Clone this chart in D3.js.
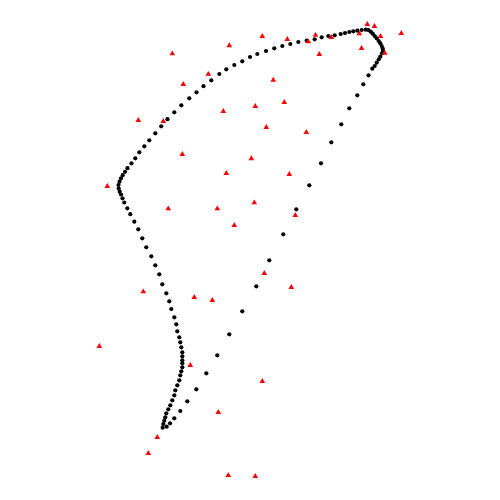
<!DOCTYPE html>
<html>
<head>
<meta charset="utf-8">
<script src="https://cdn.jsdelivr.net/npm/d3@7"></script>
<style>
  html, body { margin: 0; padding: 0; background: #fff; }
  svg { display: block; }
</style>
</head>
<body>
<script>
// Curve points (black dots), in data units
const curveX = [16.27,16.67,17.00,17.43,18.03,18.73,19.63,20.63,21.73,22.93,24.23,25.63,26.93,28.33,29.63,30.93,32.10,33.13,34.13,34.93,35.73,36.33,36.85,37.23,37.47,37.67,37.87,38.03,38.20,38.30,38.27,38.17,38.03,37.87,37.67,37.47,37.27,37.07,36.83,36.57,36.17,35.73,35.33,34.93,34.50,34.07,33.47,32.83,32.17,31.47,30.67,29.83,29.03,28.23,27.43,26.60,25.73,25.00,24.23,23.43,22.63,21.93,21.13,20.35,19.65,18.93,18.13,17.43,16.75,16.12,15.53,14.93,14.43,13.93,13.53,13.15,12.75,12.50,12.27,12.10,11.95,11.85,11.87,11.97,12.10,12.25,12.43,12.73,13.03,13.43,13.83,14.23,14.63,15.13,15.53,15.93,16.23,16.63,16.93,17.13,17.43,17.63,17.73,17.93,18.03,18.13,18.23,18.23,18.23,18.23,18.23,18.13,18.03,17.93,17.73,17.53,17.43,17.23,17.03,16.83,16.63,16.53,16.43,16.33];
const curveY = [7.23,7.33,7.67,8.17,8.90,9.87,11.07,12.67,14.47,16.57,18.87,21.37,23.97,26.57,29.07,31.47,33.67,35.77,37.57,39.17,40.47,41.57,42.47,43.13,43.40,43.73,44.07,44.33,44.67,44.93,45.13,45.40,45.67,45.90,46.17,46.40,46.63,46.83,47.00,47.03,47.00,46.93,46.87,46.80,46.70,46.60,46.47,46.40,46.27,46.07,45.93,45.80,45.60,45.40,45.17,44.90,44.60,44.30,43.87,43.50,43.07,42.60,41.97,41.38,40.77,40.17,39.47,38.77,38.08,37.37,36.67,35.97,35.37,34.77,34.17,33.67,33.18,32.82,32.48,32.17,31.83,31.50,31.15,30.83,30.55,30.17,29.75,29.17,28.58,27.83,27.07,26.17,25.27,24.37,23.47,22.57,21.57,20.67,19.87,19.10,18.27,17.57,16.87,16.27,15.77,15.27,14.77,14.37,13.97,13.67,13.27,12.87,12.47,11.97,11.47,10.97,10.47,9.97,9.47,9.07,8.67,8.27,7.93,7.60];

// Scattered points (red triangles), in data units
const scatterX = [36.73,37.45,40.13,35.93,38.05,33.13,31.55,30.83,28.73,26.23,22.93,17.23,36.15,38.47,31.93,20.83,27.33,18.33,28.43,25.53,22.33,13.83,16.33,26.63,30.63,18.23,25.13,22.63,28.93,10.73,25.43,16.83,21.73,29.53,23.43,26.43,29.13,14.33,19.43,21.23,9.93,19.03,26.23,21.83,15.73,14.83,22.83,25.53];
const scatterY = [47.57,47.37,46.67,46.63,46.37,46.27,46.48,45.83,46.07,46.37,45.45,44.63,45.17,44.70,44.57,42.58,42.00,41.57,39.77,39.37,38.87,37.97,37.87,37.27,36.77,34.57,34.15,32.67,32.57,31.37,29.73,29.13,29.13,28.47,27.47,22.67,21.27,20.83,20.27,19.97,15.37,13.47,11.87,8.77,6.27,4.67,2.47,2.37];

const W = 500, H = 500;
const x = d3.scaleLinear().domain([0, 50]).range([0, W]);
const y = d3.scaleLinear().domain([0, 50]).range([H, 0]);

const svg = d3.select("body").append("svg").attr("width", W).attr("height", H);

const curve = curveX.map((v, i) => ({x: v, y: curveY[i]}));
const scatter = scatterX.map((v, i) => ({x: v, y: scatterY[i]}));

svg.append("g").selectAll("circle").data(curve).join("circle")
  .attr("cx", d => x(d.x)).attr("cy", d => y(d.y))
  .attr("r", 2.1).attr("fill", "#000");

const tri = d3.symbol().type(d3.symbolTriangle).size(14);
svg.append("g").selectAll("path").data(scatter).join("path")
  .attr("d", tri)
  .attr("transform", d => `translate(${x(d.x)},${y(d.y)})`)
  .attr("fill", "#ff0000");
</script>
</body>
</html>
